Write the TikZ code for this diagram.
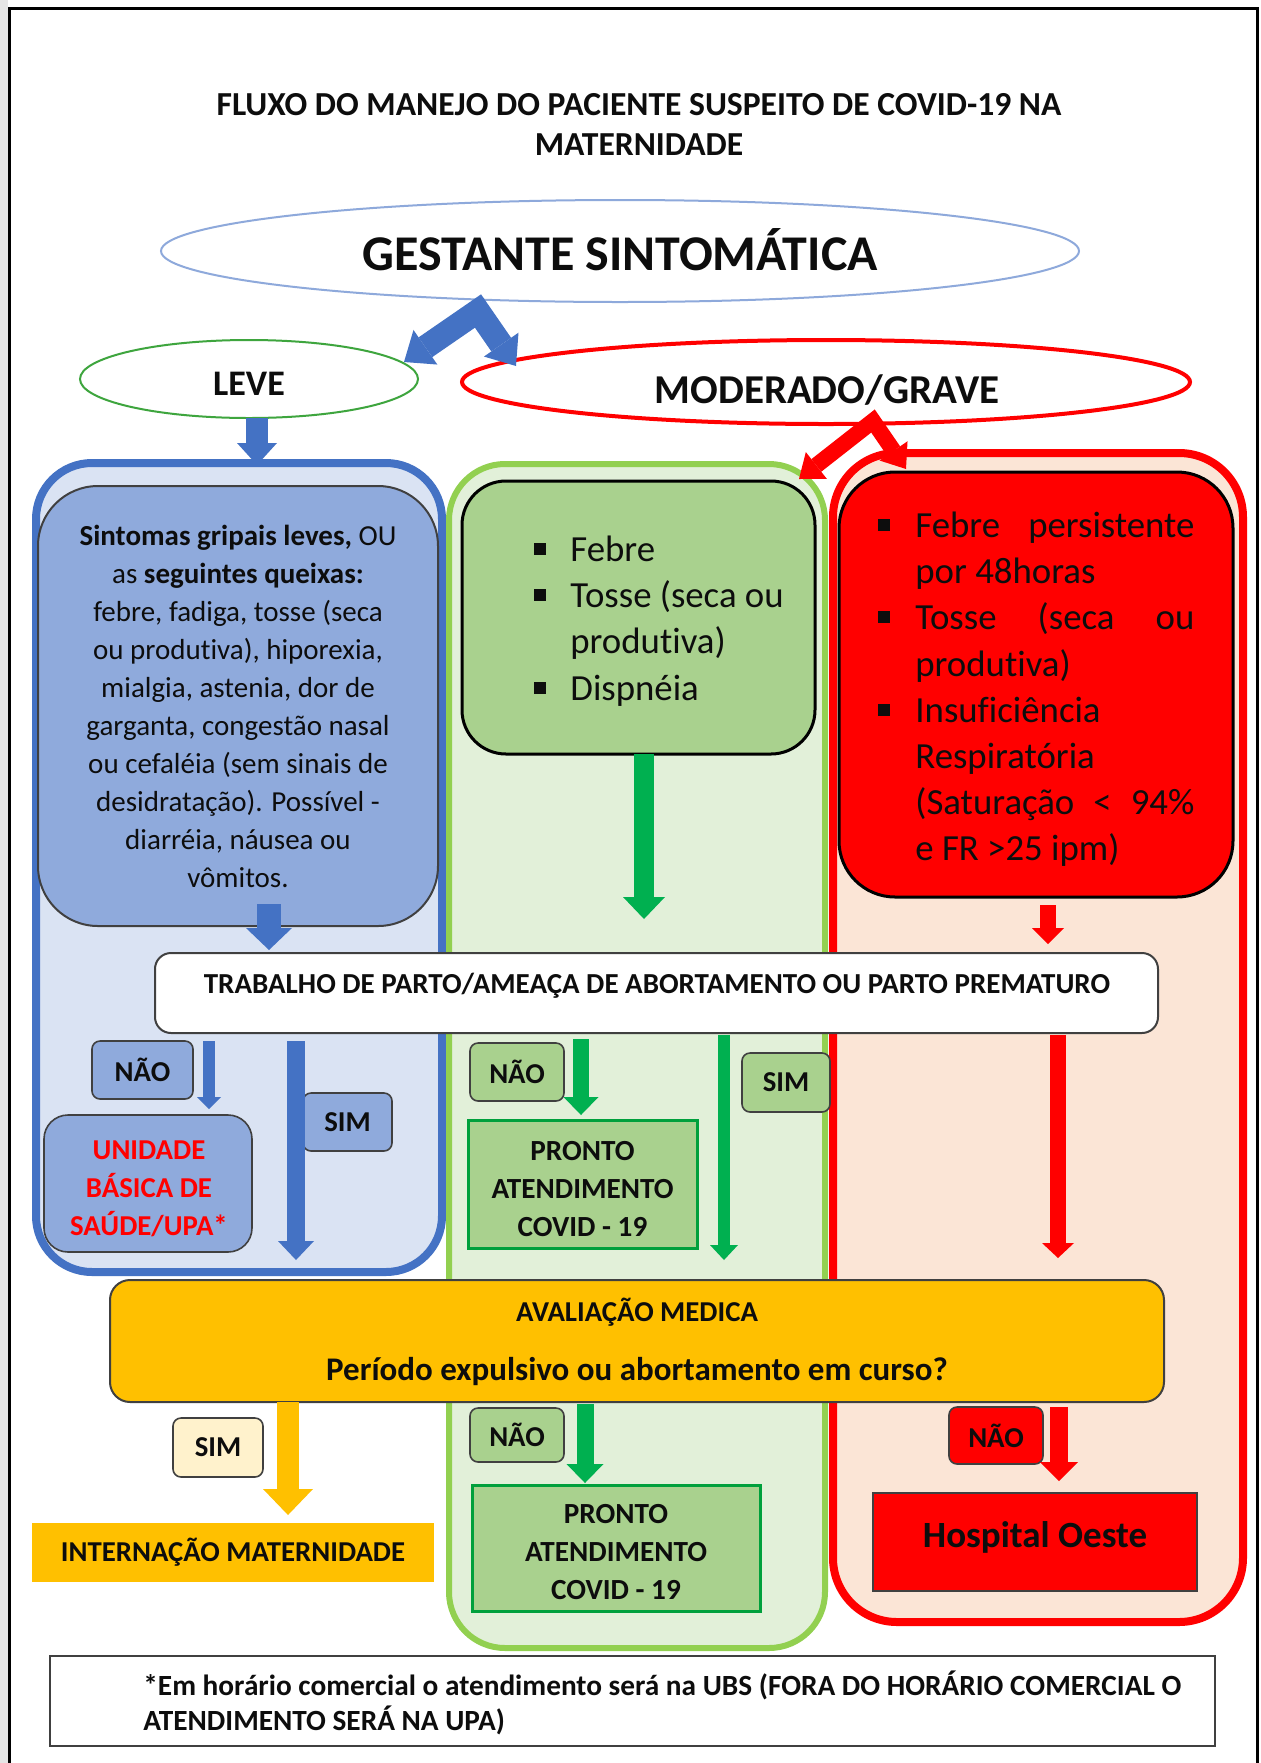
\documentclass[tikz,border=0pt]{standalone}
\usepackage{fontspec}
\setmainfont{Carlito}[Ligatures=NoCommon]
\usetikzlibrary{shapes.geometric,arrows.meta}
\definecolor{bluearr}{HTML}{4472C4}
\definecolor{bluebg}{HTML}{DAE3F3}
\definecolor{bluefill}{HTML}{8FAADC}
\definecolor{greenbg}{HTML}{E2F0D9}
\definecolor{greenbd}{HTML}{92D050}
\definecolor{greenfill}{HTML}{A9D18E}
\definecolor{greenarr}{HTML}{00B050}
\definecolor{greenline}{HTML}{00A03C}
\definecolor{redbg}{HTML}{FBE5D6}
\definecolor{redc}{HTML}{FF0000}
\definecolor{gold}{HTML}{FFC000}
\definecolor{cream}{HTML}{FFF2CC}
\definecolor{darkbd}{HTML}{404040}
\definecolor{ellblue}{HTML}{8EA9DB}
\definecolor{ellgreen}{HTML}{3EA53E}
\definecolor{txt}{HTML}{0D0D0D}
\newcommand{\fsz}[2]{\fontsize{#1}{#2}\selectfont}
\tikzset{
  ell/.style={ellipse, inner sep=0pt},
  cont/.style={rounded corners=#1, inner sep=0pt},
  lbl/.style={draw=darkbd, line width=0.8pt, rounded corners=4pt, inner sep=0pt, font={\fsz{14.4}{17}\bfseries}, text=txt},
  pabox/.style={draw=greenline, line width=1.5pt, fill=greenfill, inner sep=0pt},
  patxt/.style={align=center, inner sep=0pt, font={\fsz{14.6}{19}\bfseries}, text=txt},
  barr/.style n args={4}{draw=#1, line width=#2, -{Triangle[width=#3,length=#4,line width=0pt]}},
  dbarr/.style n args={4}{draw=#1, line width=#2, line join=miter, {Triangle[width=#3,length=#4,line width=0pt]}-{Triangle[width=#3,length=#4,line width=0pt]}},
  txtb/.style={anchor=base, inner sep=0pt, text=txt},
  bul/.style={fill=txt, inner sep=0pt, minimum size=6pt},
  gline/.style={txtb, anchor=base west, font={\fsz{18.4}{23}}},
}
\begin{document}
\begin{tikzpicture}[x=0.5pt,y=-0.5pt]
\useasboundingbox (0,0) rectangle (1260,1763);
\fill[white] (0,0) rectangle (1260,1763);
\fill[black!10] (0,0) rectangle (8,1763);
\draw[line width=1.5pt, black] (9.5,1763) -- (9.5,8.5) -- (1257,8.5) -- (1257,1763);

% title
\node[txtb, font={\fsz{16.8}{20}\bfseries}] (t1) at (639,115) {FLUXO DO MANEJO DO PACIENTE SUSPEITO DE COVID-19 NA};
\node[txtb, font={\fsz{16.8}{20}\bfseries}] (t2) at (639,155) {MATERNIDADE};

% ellipses
\node[ell, draw=ellblue, line width=1pt, minimum width=459pt, minimum height=51pt] (gest) at (620,251) {};
\node[txtb, font={\fsz{25}{28}\bfseries}] (gesttxt) at (620,270) {GESTANTE SINTOMÁTICA};
\node[ell, draw=ellgreen, line width=1pt, minimum width=169pt, minimum height=39pt] (leve) at (249,379) {};
\node[txtb, font={\fsz{18}{22}\bfseries}] (levetxt) at (249,395) {LEVE};
\node[ell, draw=redc, line width=2pt, minimum width=364pt, minimum height=42pt] (mod) at (826,382) {};
\node[txtb, font={\fsz{20.5}{24}\bfseries}] (modtxt) at (827,403) {MODERADO/GRAVE};

% containers
\node[cont=28pt, draw=bluearr, fill=bluebg, line width=4pt, minimum width=203pt, minimum height=404.5pt] (bluec) at (239,867.5) {};
\node[cont=28pt, draw=greenbd, fill=greenbg, line width=3pt, minimum width=188pt, minimum height=592pt] (greenc) at (637,1056) {};
\node[cont=32pt, draw=redc, fill=redbg, line width=4pt, minimum width=205pt, minimum height=584.5pt] (redcont) at (1038,1037.5) {};

% inner boxes
\node[cont=30pt, draw=darkbd, fill=bluefill, line width=1pt, minimum width=200pt, minimum height=220pt, align=center, font={\fsz{14.5}{19}}, text=txt] (bluebox) at (238,706) {\textbf{Sintomas gripais leves,} OU\\ as \textbf{seguintes queixas:}\\ febre, fadiga, tosse (seca\\ ou produtiva), hiporexia,\\ mialgia, astenia, dor de\\ garganta, congestão nasal\\ ou cefaléia (sem sinais de\\ desidratação). Possível -\\ diarréia, náusea ou\\ vômitos.};
\node[cont=22pt, draw=black, fill=greenfill, line width=1.5pt, minimum width=176.5pt, minimum height=136.5pt] (greenbox) at (638.5,617.5) {};
\node[cont=28pt, draw=black, fill=redc, line width=1.5pt, minimum width=197pt, minimum height=212.5pt] (redbox) at (1036,684.5) {};

% green bullets
\node[bul] (gb1) at (540,549) {};
\node[bul] (gb2) at (540,595) {};
\node[bul] (gb3) at (540,688) {};
\node[gline] (g1) at (570,561) {Febre};
\node[gline] (g2) at (570,607) {Tosse (seca ou};
\node[gline] (g3) at (570,653) {produtiva)};
\node[gline] (g4) at (570,700) {Dispnéia};

% red bullets
\node[bul] (rb1) at (884,525) {};
\node[bul] (rb2) at (884,617) {};
\node[bul] (rb3) at (884,710) {};
\node[gline] (r1) at (915,537) {\makebox[139.5pt][l]{Febre\hfill persistente}};
\node[gline] (r2) at (915,583) {por 48horas};
\node[gline] (r3) at (915,629) {\makebox[139.5pt][l]{Tosse\hfill(seca\hfill ou}};
\node[gline] (r4) at (915,676) {produtiva)};
\node[gline] (r5) at (915,722) {Insuficiência};
\node[gline] (r6) at (915,768) {Respiratória};
\node[gline] (r7) at (915,814) {\makebox[139.5pt][l]{(Saturação\hfill<\hfill94\%}};
\node[gline] (r8) at (915,860) {e FR >25 ipm)};

% trabalho
\node[cont=8pt, draw=darkbd, fill=white, line width=1pt, minimum width=501.5pt, minimum height=40pt] (trab) at (656.5,993) {};
\node[txtb, font={\fsz{14.5}{17}\bfseries}] (trabtxt) at (657,993) {TRABALHO DE PARTO/AMEAÇA DE ABORTAMENTO OU PARTO PREMATURO};

% avaliacao
\node[cont=10pt, draw=darkbd, fill=gold, line width=1pt, minimum width=527pt, minimum height=61pt] (aval) at (637,1341) {};
\node[txtb, font={\fsz{14.4}{17}\bfseries}] (aval1) at (637,1321) {AVALIAÇÃO MEDICA};
\node[txtb, font={\fsz{16.5}{20}\bfseries}] (aval2) at (637,1380) {Período expulsivo ou abortamento em curso?};

% labels and end boxes
\node[lbl, fill=bluefill, minimum width=50.5pt, minimum height=29pt] (bnao) at (142.5,1070) {NÃO};
\node[lbl, fill=bluefill, minimum width=44.5pt, minimum height=29pt] (bsim) at (347.5,1122) {SIM};
\node[lbl, rounded corners=12pt, fill=bluefill, minimum width=104pt, minimum height=68.5pt] (ubs) at (148,1183.5) {};
\node[align=center, inner sep=0pt, font={\fsz{14.4}{19}\bfseries}, text=redc] (ubstxt) at (149,1189) {UNIDADE\\BÁSICA DE\\SAÚDE/UPA*};
\node[lbl, fill=greenfill, minimum width=47pt, minimum height=29pt] (gnao1) at (517,1072) {NÃO};
\node[lbl, fill=greenfill, minimum width=44pt, minimum height=29.5pt] (gsim) at (786,1082.5) {SIM};
\node[pabox, minimum width=114.5pt, minimum height=64pt] (pa1) at (582.5,1184) {};
\node[patxt] (pa1txt) at (582.5,1189) {PRONTO\\ATENDIMENTO\\COVID - 19};
\node[lbl, fill=greenfill, minimum width=47pt, minimum height=27pt] (gnao2) at (517,1435) {NÃO};
\node[pabox, minimum width=144pt, minimum height=63pt] (pa2) at (616,1548) {};
\node[patxt] (pa2txt) at (616,1552) {PRONTO\\ATENDIMENTO\\COVID - 19};
\node[lbl, fill=cream, minimum width=45pt, minimum height=29.5pt] (ysim) at (218,1447.5) {SIM};
\node[lbl, fill=redc, minimum width=47pt, minimum height=28.5pt] (rnao) at (996,1435.5) {NÃO};
\node[fill=gold, inner sep=0pt, minimum width=201pt, minimum height=29.5pt, font={\fsz{14.4}{17}\bfseries}, text=txt] (intern) at (233,1552.5) {INTERNAÇÃO MATERNIDADE};
\node[draw=darkbd, line width=0.8pt, fill=redc, inner sep=0pt, minimum width=162pt, minimum height=49pt] (hosp) at (1035,1542) {};
\node[txtb, font={\fsz{18.5}{22}\bfseries}] (hosptxt) at (1035,1547) {Hospital Oeste};
\node[draw=darkbd, line width=1pt, inner sep=0pt, minimum width=582.5pt, minimum height=45pt] (foot) at (632.5,1701) {};
\node[txtb, anchor=base west, font={\fsz{14.65}{17}\bfseries}] (f1) at (143,1695) {*Em horário comercial o atendimento será na UBS (FORA DO HORÁRIO COMERCIAL O};
\node[txtb, anchor=base west, font={\fsz{14.65}{17}\bfseries}] (f2) at (143,1730) {ATENDIMENTO SERÁ NA UPA)};

% arrow coordinates
\coordinate (bl) at (404,362); \coordinate (bp) at (478,311); \coordinate (br) at (516,366);
\coordinate (rl) at (799,479); \coordinate (rp) at (873,421); \coordinate (rr) at (906,469);
\coordinate (a1s) at (257,418);  \coordinate (a1e) at (257,465);
\coordinate (a2s) at (269,904);  \coordinate (a2e) at (269,950);
\coordinate (a3s) at (644,754);  \coordinate (a3e) at (644,919);
\coordinate (a4s) at (1048,905); \coordinate (a4e) at (1048,944);
\coordinate (a5s) at (209,1041); \coordinate (a5e) at (209,1109);
\coordinate (a6s) at (296,1041); \coordinate (a6e) at (296,1260);
\coordinate (a7s) at (581,1039); \coordinate (a7e) at (581,1115);
\coordinate (a8s) at (724,1035); \coordinate (a8e) at (724,1260);
\coordinate (a9s) at (1058,1035); \coordinate (a9e) at (1058,1258);
\coordinate (a10s) at (288,1402); \coordinate (a10e) at (288,1515);
\coordinate (a11s) at (585,1404); \coordinate (a11e) at (585,1483);
\coordinate (a12s) at (1059,1407); \coordinate (a12e) at (1059,1481);

\draw[dbarr={bluearr}{12pt}{21pt}{13pt}] (bl) -- (bp) -- (br);
\draw[dbarr={redc}{8pt}{17pt}{11pt}] (rl) -- (rp) -- (rr);
\draw[barr={bluearr}{11pt}{20pt}{11pt}] (a1s) -- (a1e);
\draw[barr={bluearr}{12pt}{23pt}{11pt}] (a2s) -- (a2e);
\draw[barr={greenarr}{10pt}{21pt}{11pt}] (a3s) -- (a3e);
\draw[barr={redc}{8pt}{16pt}{8pt}] (a4s) -- (a4e);
\draw[barr={bluearr}{6pt}{12pt}{6pt}] (a5s) -- (a5e);
\draw[barr={bluearr}{9pt}{18pt}{9.5pt}] (a6s) -- (a6e);
\draw[barr={greenarr}{8pt}{17.5pt}{9pt}] (a7s) -- (a7e);
\draw[barr={greenarr}{6pt}{14pt}{7.5pt}] (a8s) -- (a8e);
\draw[barr={redc}{8pt}{16pt}{7.5pt}] (a9s) -- (a9e);
\draw[barr={gold}{11pt}{25pt}{13pt}] (a10s) -- (a10e);
\draw[barr={greenarr}{8.5pt}{18.5pt}{9.5pt}] (a11s) -- (a11e);
\draw[barr={redc}{9pt}{19pt}{9.5pt}] (a12s) -- (a12e);
\end{tikzpicture}
\end{document}
